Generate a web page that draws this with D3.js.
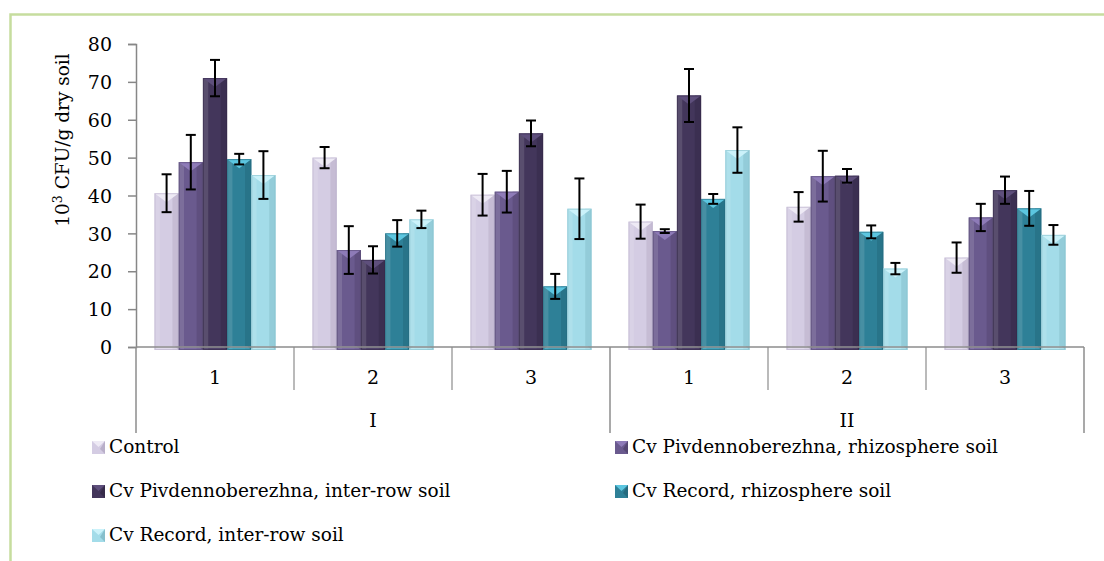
<!DOCTYPE html>
<html><head><meta charset="utf-8">
<script src="https://cdn.jsdelivr.net/npm/d3@7"></script>
<style>
html,body{margin:0;padding:0;background:#fff;}
svg text{font-family:"DejaVu Serif",serif;fill:#000;}
</style></head>
<body>
<svg id="c" width="1104" height="561"></svg>
<script>
// ---- data ----
const groups = ["1","2","3","1","2","3"];
const periods = ["I","II"];
const seriesNames = ["Control","Cv Pivdennoberezhna, rhizosphere soil","Cv Pivdennoberezhna, inter-row soil","Cv Record, rhizosphere soil","Cv Record, inter-row soil"];
const control   = [40.6, 50.0, 40.2, 33.1, 37.0, 23.6];
const pivRhizo  = [48.8, 25.6, 41.0, 30.6, 45.1, 34.2];
const pivInter  = [71.0, 23.0, 56.4, 66.4, 45.2, 41.4];
const recRhizo  = [49.6, 30.0, 16.0, 39.1, 30.4, 36.6];
const recInter  = [45.4, 33.7, 36.5, 52.0, 20.7, 29.6];
const controlErr  = [5.0, 2.8, 5.5, 4.5, 3.9, 4.0];
const pivRhizoErr = [7.2, 6.3, 5.5, 0.5, 6.7, 3.6];
const pivInterErr = [4.8, 3.6, 3.4, 7.0, 1.8, 3.6];
const recRhizoErr = [1.4, 3.5, 3.3, 1.3, 1.7, 4.6];
const recInterErr = [6.3, 2.3, 8.0, 6.0, 1.5, 2.6];
const yTicks = [0,10,20,30,40,50,60,70,80];

const values = [control, pivRhizo, pivInter, recRhizo, recInter];
const errors = [controlErr, pivRhizoErr, pivInterErr, recRhizoErr, recInterErr];
const colors = [
  {main:"#d4cce3", top:"#eeeaf5", dark:"#b9afc9"},
  {main:"#6a5a8e", top:"#8e7bb8", dark:"#554773"},
  {main:"#43365b", top:"#5e4f7c", dark:"#352a49"},
  {main:"#2e8097", top:"#5cc6e0", dark:"#256a7e"},
  {main:"#a3dce9", top:"#cbf2fa", dark:"#86bfcc"}
];

const svg = d3.select("#c");
// border
svg.append("path").attr("d","M10.5,561 L10.5,14.5 L1104,14.5")
  .attr("fill","none").attr("stroke","#c6dd9e").attr("stroke-width",2.5);

const L = 136, R = 1084, Y0 = 347, Y80 = 44;
const y = d3.scaleLinear().domain([0,80]).range([Y0,Y80]);
const idx = d3.range(groups.length);
const x0 = d3.scaleBand().domain(idx).range([L,R]).paddingInner(0.234).paddingOuter(0.117);
const x1 = d3.scaleBand().domain(d3.range(seriesNames.length)).range([0,x0.bandwidth()]);

// y axis
const yAxis = d3.axisLeft(y).tickValues(yTicks).tickSize(8).tickPadding(16).tickFormat(d3.format("d"));
const ga = svg.append("g").attr("transform",`translate(${L},0)`).call(yAxis);
ga.select(".domain").attr("stroke","#878787").attr("stroke-width",1.5);
ga.selectAll(".tick line").attr("stroke","#878787").attr("stroke-width",1.5);
ga.selectAll(".tick text").style("font-size","19px").attr("dy","0.35em");

// y title
const yt = svg.append("text").attr("transform","translate(69,140) rotate(-90)")
  .attr("text-anchor","middle").style("font-size","18.5px");
yt.append("tspan").text("10");
yt.append("tspan").attr("dy","-7").style("font-size","12.5px").text("3");
yt.append("tspan").attr("dy","7").text(" CFU/g dry soil");

// bars
function bevelBar(g, bx, by, w, h, c){
  g.append("rect").attr("x",bx).attr("y",by).attr("width",w).attr("height",h+3).attr("fill",c.main);
  g.append("rect").attr("x",bx).attr("y",by).attr("width",w*0.22).attr("height",h+3).attr("fill","#fff").attr("opacity",0.12);
  g.append("rect").attr("x",bx+w*0.74).attr("y",by).attr("width",w*0.26).attr("height",h+3).attr("fill",c.dark).attr("opacity",0.55);
  const t = Math.min(9, h/2);
  g.append("path").attr("d",`M${bx},${by} L${bx+w},${by} L${bx+w/2},${by+t} Z`).attr("fill",c.top);
  g.append("path").attr("d",`M${bx},${by+h+3} L${bx+4},${by+h-1} L${bx+w-4},${by+h-1} L${bx+w},${by+h+3} Z`).attr("fill",c.top).attr("opacity",0.5);
  g.append("rect").attr("x",bx+0.5).attr("y",by+0.5).attr("width",w-1).attr("height",h+2).attr("fill","none").attr("stroke",c.dark).attr("stroke-width",1).attr("opacity",0.6);
}
const gb = svg.append("g");
values.forEach((vals,s)=>{
  vals.forEach((v,i)=>{
    const bx = x0(i)+x1(s), by = y(v);
    bevelBar(gb, bx, by, x1.bandwidth(), Y0-by, colors[s]);
  });
});

// x axis lines
const gx = svg.append("g").attr("stroke","#8c8c8c").attr("stroke-width",1.5);
gx.append("line").attr("x1",L).attr("x2",R).attr("y1",Y0).attr("y2",Y0);
const step = x0.step();
idx.concat([groups.length]).forEach(i=>{
  const xx = L + i*step;
  const long = (i % 3 === 0);
  gx.append("line").attr("x1",xx).attr("x2",xx).attr("y1",Y0).attr("y2", long ? 433 : 390).attr("stroke-width", long?1.5:1.2);
});
groups.forEach((g,i)=>{
  svg.append("text").attr("x",x0(i)+x0.bandwidth()/2).attr("y",384).attr("text-anchor","middle").style("font-size","19px").text(g);
});
periods.forEach((p,k)=>{
  svg.append("text").attr("x",L + (k*3+1.5)*step).attr("y",427).attr("text-anchor","middle").style("font-size","19px").text(p);
});

// error bars
const ge = svg.append("g").attr("stroke","#000").attr("stroke-width",2);
values.forEach((vals,s)=>{
  vals.forEach((v,i)=>{
    const cx = x0(i)+x1(s)+x1.bandwidth()/2;
    const e = errors[s][i];
    const yt = y(v+e), yb = y(v-e);
    ge.append("line").attr("x1",cx).attr("x2",cx).attr("y1",yt).attr("y2",yb);
    ge.append("line").attr("x1",cx-5).attr("x2",cx+5).attr("y1",yt).attr("y2",yt);
    ge.append("line").attr("x1",cx-5).attr("x2",cx+5).attr("y1",yb).attr("y2",yb);
  });
});

// legend
const legPos = [[92,447],[615,447],[92,491],[615,491],[92,535]];
seriesNames.forEach((n,s)=>{
  const [lx,ly] = legPos[s];
  const c = colors[s];
  const g = svg.append("g");
  g.append("rect").attr("x",lx).attr("y",ly-6).attr("width",13).attr("height",13).attr("fill",c.main);
  g.append("path").attr("d",`M${lx},${ly-6} L${lx+13},${ly-6} L${lx+6.5},${ly} Z`).attr("fill",c.top);
  g.append("path").attr("d",`M${lx+13},${ly-6} L${lx+13},${ly+7} L${lx+8},${ly+2} Z`).attr("fill",c.dark);
  g.append("text").attr("x",lx+17).attr("y",ly).attr("dy","0.35em").style("font-size","18.5px").text(n);
});
</script>
</body></html>
